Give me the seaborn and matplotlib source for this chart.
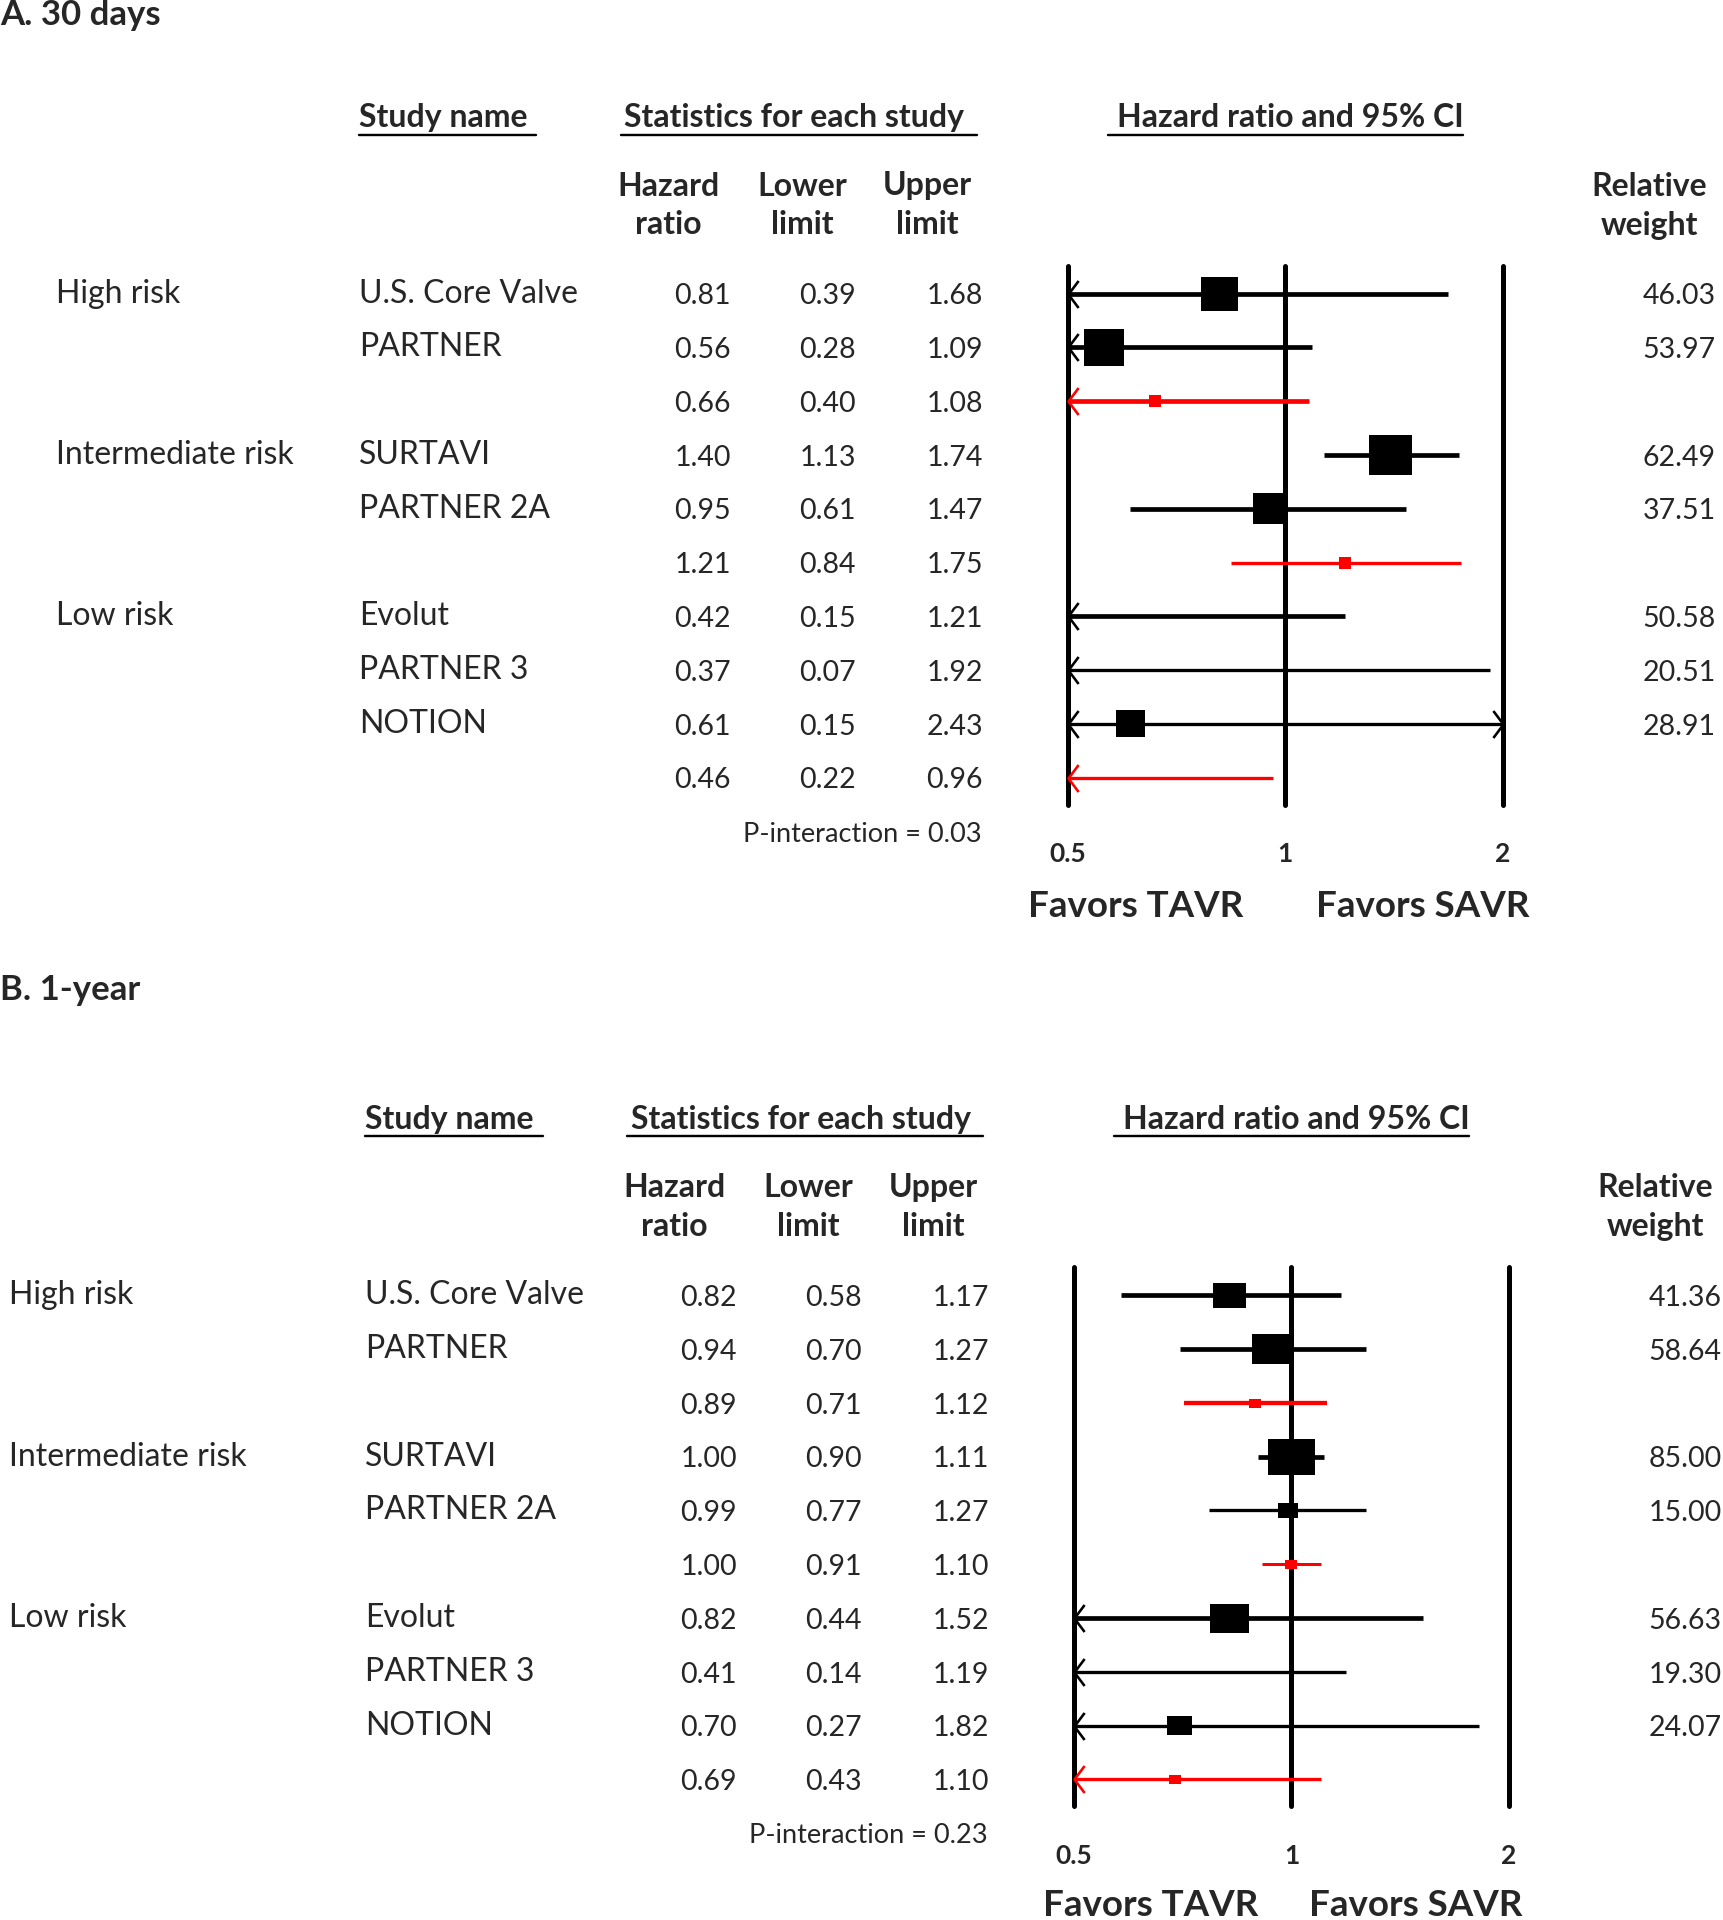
import numpy as np
import matplotlib
matplotlib.use("Agg")
import matplotlib.pyplot as plt
import matplotlib.transforms as mtransforms
from matplotlib.path import Path
from matplotlib.lines import Line2D
from matplotlib.ticker import NullLocator
import seaborn as sns

# ---- data -------------------------------------------------------------
group_labels = ["High risk", "Intermediate risk", "Low risk"]
group_rows = [0, 3, 6]
study_names = ["U.S. Core Valve", "PARTNER", "", "SURTAVI", "PARTNER 2A", "",
               "Evolut", "PARTNER 3", "NOTION", ""]
pooled = [False, False, True, False, False, True, False, False, False, True]

# A. 30 days
hr_30d = [0.81, 0.56, 0.66, 1.40, 0.95, 1.21, 0.42, 0.37, 0.61, 0.46]
lo_30d = [0.39, 0.28, 0.40, 1.13, 0.61, 0.84, 0.15, 0.07, 0.15, 0.22]
hi_30d = [1.68, 1.09, 1.08, 1.74, 1.47, 1.75, 1.21, 1.92, 2.43, 0.96]
wt_30d = [46.03, 53.97, None, 62.49, 37.51, None, 50.58, 20.51, 28.91, None]
p_30d = "0.03"

# B. 1-year
hr_1y = [0.82, 0.94, 0.89, 1.00, 0.99, 1.00, 0.82, 0.41, 0.70, 0.69]
lo_1y = [0.58, 0.70, 0.71, 0.90, 0.77, 0.91, 0.44, 0.14, 0.27, 0.43]
hi_1y = [1.17, 1.27, 1.12, 1.11, 1.27, 1.10, 1.52, 1.19, 1.82, 1.10]
wt_1y = [41.36, 58.64, None, 85.00, 15.00, None, 56.63, 19.30, 24.07, None]
p_1y = "0.23"

x_ticks = [0.5, 1, 2]
x_ticklabels = ["0.5", "1", "2"]

# ---- style ------------------------------------------------------------
sns.set_theme(style="white")
plt.rcParams["font.family"] = ["Lato", "DejaVu Sans"]

W, H = 1723, 1920
fig = plt.figure(figsize=(W / 100, H / 100), dpi=100)
PX = 0.72  # points per pixel at dpi 100
RED = "#ff0000"
FS = 23        # row labels
FS_NUM = 20.5  # numbers
FS_HEAD = 23   # bold headers

left_arrow = Path([(0.75, 1), (0, 0), (0.75, -1)], [Path.MOVETO, Path.LINETO, Path.LINETO])
right_arrow = Path([(-0.75, 1), (0, 0), (-0.75, -1)], [Path.MOVETO, Path.LINETO, Path.LINETO])


def fx(px):
    return px / W


def fy(py):
    return 1 - py / H


def draw_panel(title, title_y, hr, lo, hi, wt, p_txt, dx, dy, group_x, favors_x, favors_y,
               box_aspect, side_k, pooled_lw):
    hr, lo, hi = np.array(hr), np.array(lo), np.array(hi)
    rows = np.arange(len(hr))
    # forest axes
    left, right, top, bottom = 1068 + dx, 1502.6 + dx, 265.7 + dy, 804.6 + dy
    ax = fig.add_axes([fx(left), fy(bottom), (right - left) / W, (bottom - top) / H])
    ax.set_xscale("log")
    ax.set_xlim(0.5, 2)
    ax.set_ylim(9.5, -0.52)
    for s in ax.spines.values():
        s.set_visible(False)
    ax.set_yticks([])
    ax.set_xticks(x_ticks)
    ax.set_xticklabels(x_ticklabels, fontsize=19, fontweight="bold")
    ax.xaxis.set_minor_locator(NullLocator())
    ax.tick_params(axis="x", length=0, pad=27)
    ax.set_xlabel("")
    for v in x_ticks:
        ax.axvline(v, color="black", lw=5 * PX, clip_on=False, zorder=1)

    # CI lines
    x0 = np.clip(lo, 0.5, 2)
    x1 = np.clip(hi, 0.5, 2)
    pool_i = 0
    for i in rows:
        if pooled[i]:
            lw = pooled_lw[pool_i]
            pool_i += 1
            col = RED
        else:
            lw = 3.3 if wt[i] < 30 else 4.7
            col = "black"
        ax.hlines(i, x0[i], x1[i], colors=col, lw=lw * PX, zorder=2)
        if lo[i] < 0.5:
            ax.plot([0.5], [i], marker=left_arrow, ls="none", mfc="none", mec=col,
                    ms=27 * PX, mew=2.6 * PX, clip_on=False, zorder=3)
        if hi[i] > 2:
            ax.plot([2], [i], marker=right_arrow, ls="none", mfc="none", mec=col,
                    ms=27 * PX, mew=2.6 * PX, clip_on=False, zorder=3)

    # study squares
    box = [(-1, -box_aspect), (1, -box_aspect), (1, box_aspect), (-1, box_aspect), (-1, -box_aspect)]
    st = [i for i in rows if not pooled[i] and hr[i] >= 0.5]
    sides = np.array([side_k * np.sqrt(wt[i]) * PX for i in st])
    sns.scatterplot(x=hr[st], y=rows[st], marker=box, s=sides ** 2, color="black",
                    linewidth=0, ax=ax, zorder=4, legend=False)
    pl = [i for i in rows if pooled[i] and hr[i] >= 0.5]
    sns.scatterplot(x=hr[pl], y=rows[pl], marker=box, s=(12 * PX) ** 2, color=RED,
                    linewidth=0, ax=ax, zorder=4, legend=False)

    # text columns (x in figure px, y in data rows)
    tr = mtransforms.blended_transform_factory(fig.transFigure, ax.transData)
    for lab, r in zip(group_labels, group_rows):
        fig.text(fx(group_x), r, lab, transform=tr, ha="left", va="center", fontsize=FS)
    for i in rows:
        if study_names[i]:
            fig.text(fx(358.8 + dx), i, study_names[i], transform=tr, ha="left",
                     va="center", fontsize=FS)
        fig.text(fx(731 + dx), i + 0.05, f"{hr[i]:.2f}", transform=tr, ha="right", va="center", fontsize=FS_NUM)
        fig.text(fx(856 + dx), i + 0.05, f"{lo[i]:.2f}", transform=tr, ha="right", va="center", fontsize=FS_NUM)
        fig.text(fx(983 + dx), i + 0.05, f"{hi[i]:.2f}", transform=tr, ha="right", va="center", fontsize=FS_NUM)
        if wt[i] is not None:
            fig.text(fx(1715.7 + dx), i + 0.05, f"{wt[i]:.2f}", transform=tr, ha="right",
                     va="center", fontsize=FS_NUM)

    # headers
    fig.text(0, fy(title_y), title, ha="left", va="center", fontsize=25, fontweight="bold")
    hy = 117.6 + dy
    uy = 134.7 + dy
    for txt, tx, u0, u1 in [("Study name", 358.8, 358.8, 536.4),
                            ("Statistics for each study", 624.5, 621, 977),
                            ("Hazard ratio and 95% CI", 1116.8, 1108, 1463)]:
        fig.text(fx(tx + dx), fy(hy), txt, ha="left", va="center", fontsize=FS_HEAD, fontweight="bold")
        fig.add_artist(Line2D([fx(u0 + dx), fx(u1 + dx)], [fy(uy), fy(uy)], color="black",
                              lw=2.4 * PX, transform=fig.transFigure))
    for l1, l2, cx in [("Hazard", "ratio", 668.6), ("Lower", "limit", 802),
                       ("Upper", "limit", 927), ("Relative", "weight", 1649.5)]:
        fig.text(fx(cx + dx), fy(186 + dy), l1, ha="center", va="center", fontsize=FS_HEAD,
                 fontweight="bold")
        fig.text(fx(cx + dx), fy(225 + dy), l2, ha="center", va="center", fontsize=FS_HEAD,
                 fontweight="bold")
    fig.text(fx(982 + dx), fy(834 + dy), f"P-interaction = {p_txt}", ha="right", va="center",
             fontsize=19.5)
    fig.text(fx(favors_x[0]), fy(favors_y), "Favors TAVR", ha="center", va="center",
             fontsize=26.5, fontweight="bold")
    fig.text(fx(favors_x[1]), fy(favors_y), "Favors SAVR", ha="center", va="center",
             fontsize=26.5, fontweight="bold")
    return ax


draw_panel("A. 30 days", 15, hr_30d, lo_30d, hi_30d, wt_30d, p_30d, 0, 0, 56.3,
           (1136, 1423), 906, 0.92, 5.45, [4.7, 3.3, 3.3])
draw_panel("B. 1-year", 989.5, hr_1y, lo_1y, hi_1y, wt_1y, p_1y, 6.1, 1001.7, 8.6,
           (1151, 1416), 1906, 0.75, 5.15, [4.3, 3.0, 3.3])

fig.savefig("out.png", dpi=100, facecolor="white")
